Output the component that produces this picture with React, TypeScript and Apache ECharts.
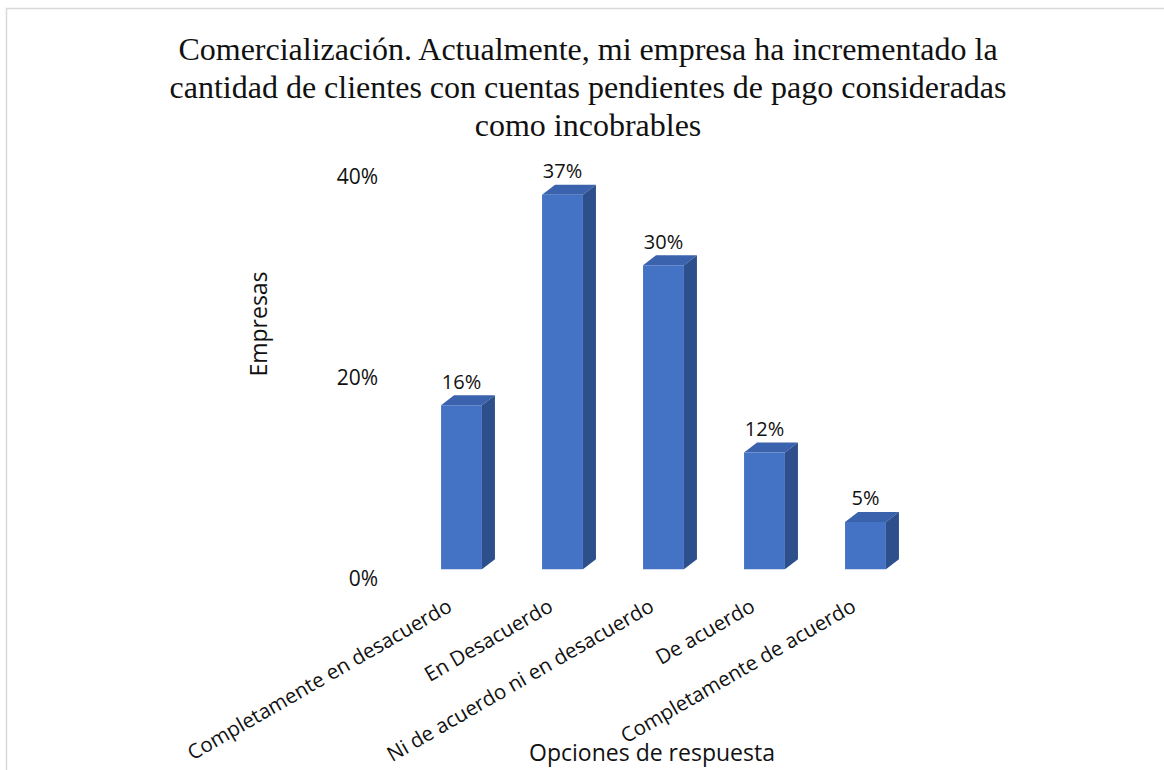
import React, { useEffect, useRef } from "react";
import * as echarts from "echarts";

// Survey answers (share of companies per option)
const categories = [
  "Completamente en desacuerdo",
  "En Desacuerdo",
  "Ni de acuerdo ni en desacuerdo",
  "De acuerdo",
  "Completamente de acuerdo",
];
const shares = [0.163, 0.372, 0.302, 0.116, 0.047];
const yTicks = { min: 0, max: 0.4, interval: 0.2 };

const titleText =
  "Comercialización. Actualmente, mi empresa ha incrementado la\ncantidad de clientes con cuentas pendientes de pago consideradas\ncomo incobrables";
const yName = "Empresas";
const xName = "Opciones de respuesta";

const FRONT = "#4472c4";
const TOP = "#3b63ad";
const SIDE = "#2d4f8c";
const SANS = "'Open Sans', 'Noto Sans', sans-serif";
const pct = (v: number) => Math.round(v * 100) + "%";

export default function App() {
  const ref = useRef<HTMLDivElement>(null);

  useEffect(() => {
    if (!ref.current) return;
    const chart = echarts.init(ref.current, undefined, { renderer: "svg" });

    const depthX = 13;
    const depthY = 10;

    chart.setOption({
      animation: false,
      backgroundColor: "#ffffff",
      title: {
        text: titleText,
        left: 588,
        top: 30,
        padding: 0,
        textAlign: "center",
        textStyle: {
          fontFamily: "'Liberation Serif', 'Times New Roman', serif",
          fontSize: 32,
          fontWeight: "normal",
          lineHeight: 38,
          color: "#111111",
        },
      },
      grid: { left: 411, right: 248, top: 166.5, bottom: 200.7 },
      xAxis: {
        type: "category",
        data: categories,
        axisLine: { show: false },
        axisTick: { show: false },
        splitLine: { show: false },
        axisLabel: {
          interval: 0,
          rotate: 30,
          margin: 27,
          padding: [0, 14, 0, 0],
          fontFamily: SANS,
          fontSize: 20.5,
          color: "#111111",
        },
      },
      yAxis: {
        type: "value",
        min: yTicks.min,
        max: yTicks.max,
        interval: yTicks.interval,
        axisLine: { show: false },
        axisTick: { show: false },
        splitLine: { show: false },
        axisLabel: {
          margin: 33,
          verticalAlign: "top",
          lineHeight: 18,
          formatter: (v: number) => pct(v),
          fontFamily: SANS,
          fontSize: 21,
          color: "#111111",
        },
      },
      graphic: [
        {
          type: "rect",
          shape: { x: 6.5, y: 8.5, width: 1300, height: 900 },
          style: { fill: "none", stroke: "#d9d9d9", lineWidth: 1.5 },
          silent: true,
        },
        {
          type: "text",
          x: 258,
          y: 324,
          rotation: Math.PI / 2,
          style: {
            text: yName,
            textAlign: "center",
            textVerticalAlign: "middle",
            fontFamily: SANS,
            fontSize: 23,
            fill: "#111111",
          },
        },
        {
          type: "text",
          x: 652,
          y: 752,
          style: {
            text: xName,
            textAlign: "center",
            textVerticalAlign: "middle",
            fontFamily: SANS,
            fontSize: 23,
            fill: "#111111",
          },
        },
      ],
      series: [
        {
          type: "custom",
          clip: false,
          data: shares.map((v, i) => [i, v]),
          encode: { x: 0, y: 1 },
          renderItem: (params: any, api: any) => {
            const idx = api.value(0);
            const v = api.value(1);
            const top = api.coord([idx, v]);
            const base = api.coord([idx, 0]);
            const band = api.size([1, 0])[0];
            const w = band * 0.405;
            const x0 = top[0] - w / 2;
            const x1 = x0 + w;
            const yt = top[1];
            const yb = base[1];
            return {
              type: "group",
              children: [
                {
                  type: "polygon",
                  shape: {
                    points: [
                      [x0, yt],
                      [x1, yt],
                      [x1 + depthX, yt - depthY],
                      [x0 + depthX, yt - depthY],
                    ],
                  },
                  style: { fill: TOP },
                },
                {
                  type: "polygon",
                  shape: {
                    points: [
                      [x1, yt],
                      [x1 + depthX, yt - depthY],
                      [x1 + depthX, yb - depthY],
                      [x1, yb],
                    ],
                  },
                  style: { fill: SIDE },
                },
                {
                  type: "rect",
                  shape: { x: x0, y: yt, width: w, height: yb - yt },
                  style: { fill: FRONT },
                },
                {
                  type: "text",
                  style: {
                    text: pct(v),
                    x: (x0 + x1) / 2,
                    y: yt - 24,
                    textAlign: "center",
                    textVerticalAlign: "middle",
                    fontFamily: SANS,
                    fontSize: 20,
                    fill: "#111111",
                  },
                },
              ],
            };
          },
        },
      ],
    });

    return () => chart.dispose();
  }, []);

  return (
    <div
      ref={ref}
      style={{ position: "fixed", left: 0, top: 0, width: 1164, height: 770 }}
    />
  );
}
